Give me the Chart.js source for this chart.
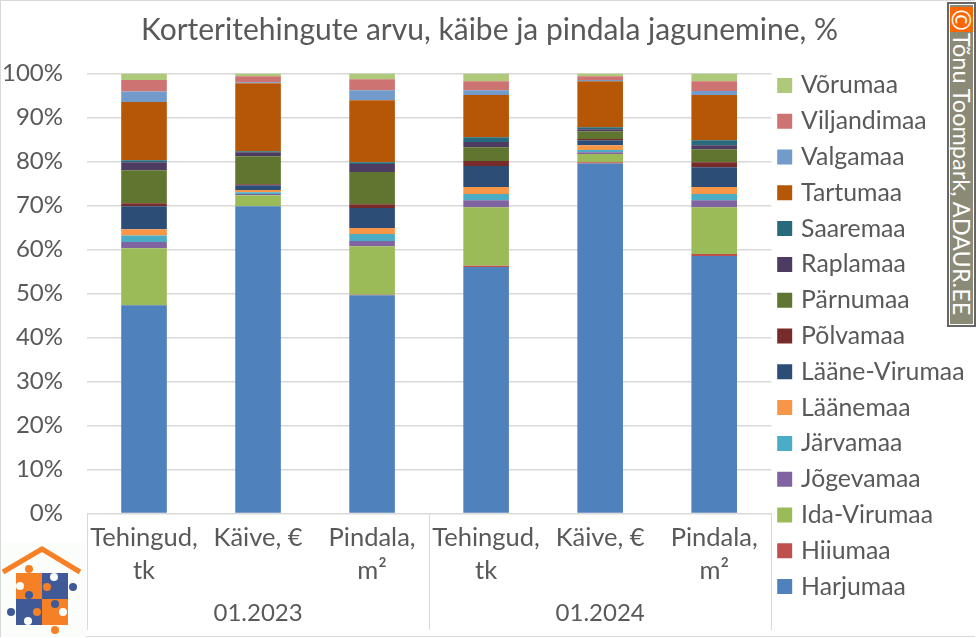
<!DOCTYPE html>
<html><head><meta charset="utf-8">
<script src="https://cdn.jsdelivr.net/npm/chart.js@4"></script>
<style>
html,body{margin:0;padding:0;background:#fff;overflow:hidden}
#wrap{position:relative;width:976px;height:638px;background:#fff}
canvas{position:absolute;left:0;top:0}
#frame{position:absolute;left:0;top:0;width:975px;height:637px;border-top:1px solid #d9d9d9;border-left:1px solid #d9d9d9;border-bottom:1px solid #d9d9d9;box-sizing:border-box;pointer-events:none}
#wm{position:absolute;left:947px;top:2px;width:29px;height:325px;background:#8a8a76;border:2px solid #666;outline:1px solid #fff;outline-offset:-3px;box-sizing:border-box}
#wmc{position:absolute;left:1px;top:3px;width:23px;height:25px;background:#ff6600;color:#fff;display:flex;align-items:center;justify-content:center;overflow:hidden}
#wmc span{display:block;font:26px/1 "Open Sans",sans-serif;transform:rotate(90deg)}
#wmt{position:absolute;left:0;top:29px;width:25px;height:290px;color:#fff;font:23.5px Lato,sans-serif;line-height:25px;writing-mode:vertical-rl;white-space:nowrap;text-align:start}
#logo{position:absolute;left:1px;top:543px;width:85px;height:94px;background:#fbfdfb}
</style></head><body>
<div id="wrap">
<canvas id="c" width="976" height="638"></canvas>
<div id="frame"></div>
<svg id="logo" viewBox="1 543 85 94">
<polyline points="3,572 42,549 80,572" fill="none" stroke="#f58025" stroke-width="5"/>
<rect x="16" y="573" width="26" height="26" fill="#f58025"/>
<rect x="42" y="573" width="26" height="26" fill="#3f5a96"/>
<rect x="16" y="599" width="26" height="26" fill="#3f5a96"/>
<rect x="42" y="599" width="26" height="26" fill="#f58025"/>
<circle cx="29" cy="569" r="4" fill="#f58025"/><circle cx="54" cy="577" r="4" fill="#fbfdfb"/>
<circle cx="73" cy="587" r="4" fill="#3f5a96"/><circle cx="47" cy="587" r="4" fill="#f58025"/>
<circle cx="20" cy="586" r="4" fill="#fbfdfb"/><circle cx="29" cy="595" r="4" fill="#3f5a96"/>
<circle cx="55" cy="604" r="4" fill="#3f5a96"/><circle cx="11" cy="612" r="4" fill="#3f5a96"/>
<circle cx="37" cy="612" r="4" fill="#f58025"/><circle cx="28" cy="621" r="4" fill="#fbfdfb"/>
<circle cx="55" cy="630" r="4" fill="#f58025"/><circle cx="63" cy="612" r="4" fill="#fbfdfb"/>
</svg>
<div id="wm"><div id="wmc"><span>©</span></div><div id="wmt">Tõnu Toompark, ADAUR.EE</div></div>
</div>
<script>
const title = 'Korteritehingute arvu, käibe ja pindala jagunemine, %';
const categories = [['Tehingud,','tk'],'Käive, €',['Pindala,','m²'],['Tehingud,','tk'],'Käive, €',['Pindala,','m²']];
const groups = ['01.2023','01.2024'];
const harjumaa = [47.3,69.8,49.6,56.0,79.55,58.5];
const hiiumaa = [0.1,0.05,0.1,0.3,0.3,0.45];
const idaVirumaa = [12.9,2.5,11.05,13.3,1.85,10.65];
const jogevamaa = [1.4,0.25,1.15,1.6,0.4,1.6];
const jarvamaa = [1.5,0.4,1.6,1.4,0.5,1.4];
const laanemaa = [1.4,0.5,1.35,1.6,1.1,1.6];
const laaneVirumaa = [5.25,1.1,4.55,4.75,1.15,4.5];
const polvamaa = [0.65,0.25,0.9,1.15,0.25,1.15];
const parnumaa = [7.5,6.35,7.3,3.15,1.8,2.95];
const raplamaa = [1.85,0.9,1.8,1.15,0.45,0.9];
const saaremaa = [0.45,0.25,0.45,1.1,0.45,1.15];
const tartumaa = [13.2,15.45,14.05,9.6,10.45,10.25];
const valgamaa = [2.4,0.2,2.3,1.1,0.25,0.9];
const viljandimaa = [2.6,1.4,2.5,2.05,0.9,2.25];
const vorumaa = [1.5,0.6,1.3,1.75,0.6,1.75];
const seriesNames = ['Harjumaa','Hiiumaa','Ida-Virumaa','Jõgevamaa','Järvamaa','Läänemaa','Lääne-Virumaa','Põlvamaa','Pärnumaa','Raplamaa','Saaremaa','Tartumaa','Valgamaa','Viljandimaa','Võrumaa'];
const seriesValues = [harjumaa,hiiumaa,idaVirumaa,jogevamaa,jarvamaa,laanemaa,laaneVirumaa,polvamaa,parnumaa,raplamaa,saaremaa,tartumaa,valgamaa,viljandimaa,vorumaa];
const seriesColors = ['#4f81bd','#c0504d','#9bbb59','#8064a2','#4bacc6','#f79646','#2c4d75','#772c2a','#5f7530','#4d3b62','#276a7c','#b65708','#729aca','#cd7371','#afc97a'];
const FONT = 'Lato, sans-serif';
const TXT = '#595959';
const separators = {
  id:'separators',
  afterLayout(ch){
    const l = ch.legend;
    const dx = 769.7 - l.left;
    const dy = 336 - (l.top + l.bottom) / 2;
    l.left += dx; l.right += dx; l.top += dy; l.bottom += dy;
  },
  afterDraw(ch){
    const c = ch.ctx, a = ch.chartArea;
    c.save(); c.strokeStyle='#d9d9d9'; c.lineWidth=1;
    [a.left,(a.left+a.right)/2,a.right].forEach(x=>{
      c.beginPath(); c.moveTo(Math.round(x)+.5,a.bottom); c.lineTo(Math.round(x)+.5,630); c.stroke();
    });
    c.restore();
  }
};
new Chart(document.getElementById('c'),{
  type:'bar',
  data:{labels:categories,datasets:seriesNames.map((n,i)=>({label:n,data:seriesValues[i],backgroundColor:seriesColors[i],stack:'s',borderWidth:0}))},
  options:{
    responsive:false,animation:false,devicePixelRatio:1,
    layout:{padding:{left:3,right:0,top:0,bottom:10}},
    datasets:{bar:{categoryPercentage:1,barPercentage:0.4}},
    plugins:{
      tooltip:{enabled:false},
      title:{display:true,text:title,color:TXT,font:{family:FONT,size:30,weight:'normal'},padding:{top:12,bottom:25.5}},
      legend:{position:'right',reverse:true,labels:{color:TXT,font:{family:FONT,size:24.8},boxWidth:8,boxHeight:8,padding:11,
        generateLabels(ch){
          return Chart.defaults.plugins.legend.labels.generateLabels(ch).map(it=>({...it,strokeStyle:it.fillStyle,lineWidth:7}));
        }}}
    },
    scales:{
      x:{stacked:true,grid:{display:false,drawTicks:false},border:{color:'#d9d9d9'},afterFit:s=>{s.height=74;},
         ticks:{color:TXT,font:{family:FONT,size:25.5,lineHeight:1.3},maxRotation:0,autoSkip:false,padding:8}},
      x2:{type:'category',labels:groups,position:'bottom',grid:{display:false,drawTicks:false},border:{display:false},afterFit:s=>{s.height=40.6;},
         ticks:{color:TXT,font:{family:FONT,size:24},padding:11.6}},
      y:{stacked:true,min:0,max:100,grid:{color:'#d9d9d9',lineWidth:1.5,drawTicks:false},border:{display:false},afterFit:s=>{s.width=84;},
         ticks:{stepSize:10,color:TXT,font:{family:FONT,size:24},padding:24,callback:v=>v+'%'}}
    }
  },
  plugins:[separators]
});
</script>
</body></html>
